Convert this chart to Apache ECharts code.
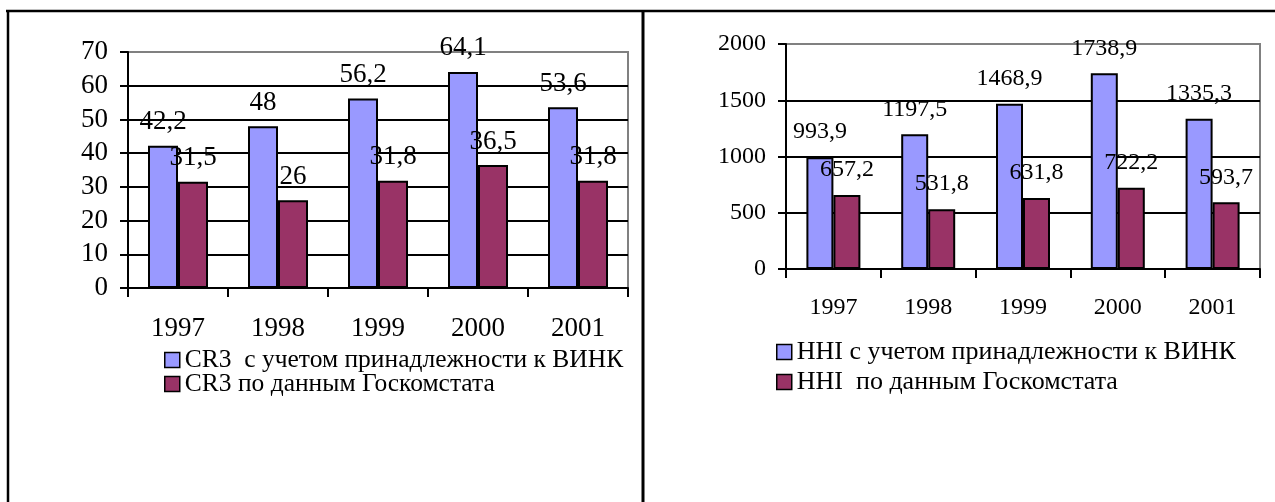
<!DOCTYPE html>
<html>
<head>
<meta charset="utf-8">
<script src="https://cdn.jsdelivr.net/npm/echarts@6/dist/echarts.min.js"></script>
<style>
    html, body { margin: 0; padding: 0; background: #fff; }
    #show_picture { width: 1275px; height: 502px; }
</style>
</head>
<body>
<div id="show_picture"></div>
<script>
    // годы и значения (CR3 и HHI)
    const years = ['1997', '1998', '1999', '2000', '2001'];
    const cr3Vink = [42.2, 48, 56.2, 64.1, 53.6];
    const cr3Goskom = [31.5, 26, 31.8, 36.5, 31.8];
    const hhiVink = [993.9, 1197.5, 1468.9, 1738.9, 1335.3];
    const hhiGoskom = [657.2, 531.8, 631.8, 722.2, 593.7];

    const cr3Names = ['CR3  с учетом принадлежности к ВИНК', 'CR3 по данным Госкомстата'];
    const hhiNames = ['HHI с учетом принадлежности к ВИНК', 'HHI  по данным Госкомстата'];

    const font = 'Liberation Serif';
    const blue = '#9999FF', red = '#993366';

    let myChart = echarts.init(document.getElementById('show_picture'));

    let fmt = (p) => String(p.value).replace('.', ',');

    function yAxis(gridIndex, max, interval, size) {
        return {
            gridIndex: gridIndex, type: 'value', min: 0, max: max, interval: interval,
            axisLine: { show: true, lineStyle: { color: '#000', width: 2 } },
            axisTick: { show: true, length: 8, lineStyle: { color: '#000', width: 2 } },
            axisLabel: { margin: 20, color: '#000', fontFamily: font, fontSize: size, formatter: (v) => String(v) },
            splitLine: { show: true, showMaxLine: false, lineStyle: { color: '#000', width: 2 } }
        };
    }

    function xAxis(gridIndex, size) {
        return {
            gridIndex: gridIndex, type: 'category', data: years,
            axisLine: { lineStyle: { color: '#000', width: 2 } },
            axisTick: { show: true, inside: false, length: 9, lineStyle: { color: '#000', width: 2 } },
            axisLabel: { margin: 27, color: '#000', fontFamily: font, fontSize: size }
        };
    }

    function bars(name, data, color, idx, width, size, dist) {
        return {
            name: name, type: 'bar', data: data,
            xAxisIndex: idx, yAxisIndex: idx,
            barWidth: width, barGap: '0%',
            itemStyle: { color: color, borderColor: '#000', borderWidth: 2 },
            label: {
                show: true, position: 'top', distance: dist, formatter: fmt,
                color: '#000', fontFamily: font, fontSize: size
            }
        };
    }

    let option = {
        animation: false,
        grid: [
            { left: 128, top: 52, width: 500, height: 236, show: true, borderColor: '#808080', borderWidth: 2 },
            { left: 786, top: 44, width: 474, height: 225, show: true, borderColor: '#808080', borderWidth: 2 }
        ],
        xAxis: [xAxis(0, 27), xAxis(1, 24)],
        yAxis: [yAxis(0, 70, 10, 27), yAxis(1, 2000, 500, 24)],
        legend: [
            {
                data: cr3Names, orient: 'vertical', left: 159, top: 342, itemGap: -2,
                icon: 'rect', itemWidth: 15, itemHeight: 15,
                itemStyle: { borderColor: '#000', borderWidth: 1.5 },
                textStyle: { color: '#000', fontFamily: font, fontSize: 25.5, lineHeight: 23 }
            },
            {
                data: hhiNames, orient: 'vertical', left: 771, top: 334, itemGap: 4,
                icon: 'rect', itemWidth: 15, itemHeight: 15,
                itemStyle: { borderColor: '#000', borderWidth: 1.5 },
                textStyle: { color: '#000', fontFamily: font, fontSize: 26, lineHeight: 25 }
            }
        ],
        graphic: [
            { type: 'line', shape: { x1: 6, y1: 11, x2: 1275, y2: 11 }, style: { stroke: '#000', lineWidth: 2.5 } },
            { type: 'line', shape: { x1: 8, y1: 11, x2: 8, y2: 502 }, style: { stroke: '#000', lineWidth: 2.5 } },
            { type: 'line', shape: { x1: 643, y1: 11, x2: 643, y2: 502 }, style: { stroke: '#000', lineWidth: 3 } }
        ],
        series: [
            bars(cr3Names[0], cr3Vink, blue, 0, 30, 27, 10),
            bars(cr3Names[1], cr3Goskom, red, 0, 30, 27, 10),
            bars(hhiNames[0], hhiVink, blue, 1, 27, 24, 13),
            bars(hhiNames[1], hhiGoskom, red, 1, 27, 24, 13)
        ]
    };

    option && myChart.setOption(option);
</script>
</body>
</html>
